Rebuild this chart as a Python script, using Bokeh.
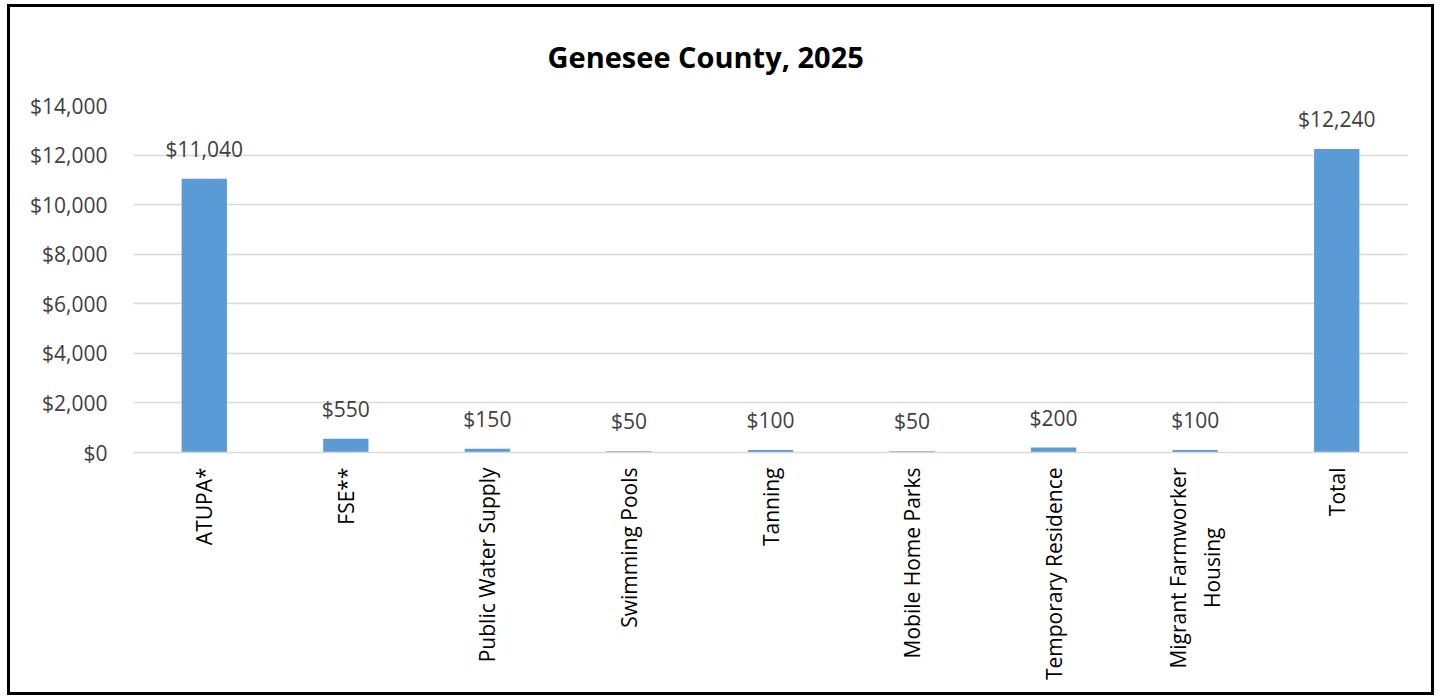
import math
from bokeh.plotting import figure
from bokeh.models import ColumnDataSource, NumeralTickFormatter, FixedTicker, LabelSet
from bokeh.core.properties import value
from bokeh.embed import file_html
from bokeh.resources import INLINE

NB = "\u00a0"
categories = ["ATUPA*", "FSE**", "Public Water Supply", "Swimming Pools", "Tanning",
              "Mobile Home Parks", "Temporary Residence",
              "Migrant Farmworker\nHousing" + NB * 11, "Total"]
values = [11040, 550, 150, 50, 100, 50, 200, 100, 12240]
value_labels = ["$11,040", "$550", "$150", "$50", "$100", "$50", "$200", "$100", "$12,240"]
y_ticks = [0, 2000, 4000, 6000, 8000, 10000, 12000, 14000]

FONT = "Open Sans"
TXT = "#404040"

src = ColumnDataSource(dict(cat=categories, val=values, lab=value_labels))

p = figure(x_range=categories, y_range=(0, 14000), width=1427, height=691,
           output_backend="svg", toolbar_location=None,
           min_border_left=123, min_border_right=30, min_border_top=98, min_border_bottom=246,
           styles={"border": "3px solid black", "margin": "4px 0 0 7px"})

p.vbar(x="cat", top="val", width=0.32, source=src, fill_color="#5B9BD5", line_color=None)

labels = LabelSet(x="cat", y="val", text="lab", source=src, text_align="center",
                  text_baseline="bottom", y_offset=16, text_font=value(FONT),
                  text_font_size="21px", text_color=TXT)
p.add_layout(labels)

p.title.text = "Genesee County, 2025"
p.title.align = "left"
p.title.vertical_align = "top"
p.title.offset = 414
p.title.text_font = FONT
p.title.text_font_size = "29px"
p.title.text_font_style = "bold"
p.title.text_color = "#000000"
p.title.standoff = 55

p.yaxis.ticker = FixedTicker(ticks=y_ticks)
p.yaxis.formatter = NumeralTickFormatter(format="$0,0")
p.yaxis.axis_line_color = None
p.yaxis.major_tick_line_color = None
p.yaxis.minor_tick_line_color = None
p.yaxis.major_label_text_font = FONT
p.yaxis.major_label_text_font_size = "21px"
p.yaxis.major_label_text_color = TXT
p.yaxis.major_label_standoff = 20

p.xaxis.axis_line_color = "#d9d9d9"
p.xaxis.axis_line_width = 1.5
p.xaxis.major_tick_line_color = None
p.xaxis.minor_tick_line_color = None
p.xaxis.major_label_orientation = math.pi / 2
p.xaxis.major_label_text_font = FONT
p.xaxis.major_label_text_font_size = "21px"
p.xaxis.major_label_text_color = "#000000"
p.xaxis.major_label_standoff = 9

p.xgrid.grid_line_color = None
p.ygrid.grid_line_color = "#d9d9d9"
p.ygrid.grid_line_width = 1.5
p.outline_line_color = None
p.background_fill_color = "white"
p.border_fill_color = "white"

open("out.html", "w").write(file_html(p, INLINE))
